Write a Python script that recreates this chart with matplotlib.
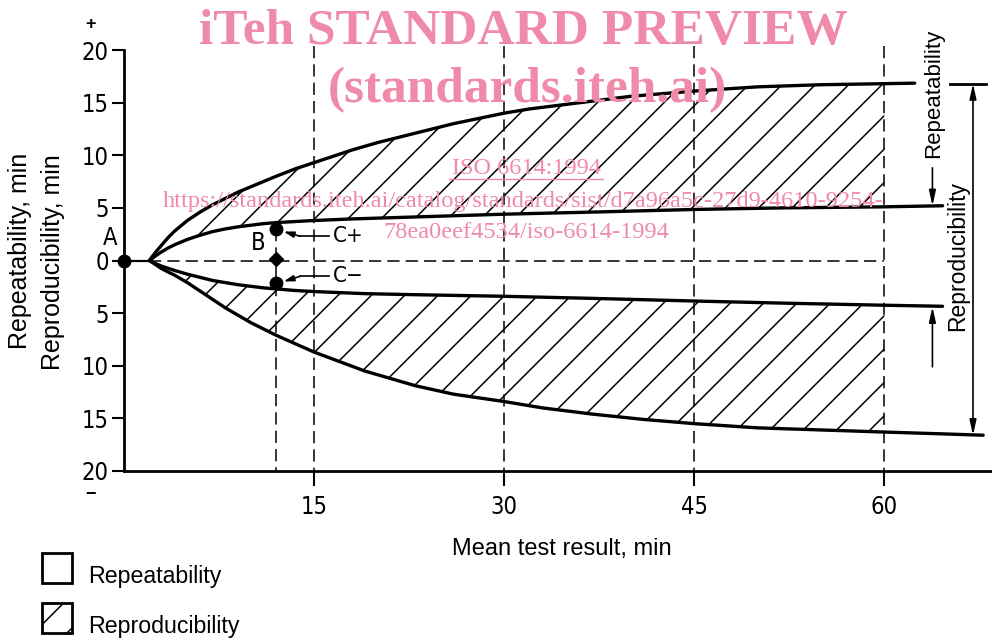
import matplotlib

matplotlib.use("Agg")
import matplotlib.pyplot as plt  # noqa: E402
from matplotlib.lines import Line2D  # noqa: E402
from matplotlib.patches import Rectangle  # noqa: E402

# values (minutes)
outer_top_x = [2.0, 2.5, 3.0, 3.5, 4.0, 4.5, 5.0, 5.5, 6.0, 7.0, 8.0, 9.0, 10.0, 11.0, 12.0,
               13.5, 15.0, 16.5, 18.0, 20.0, 22.0, 24.0, 26.0, 28.0, 30.0, 32.0, 34.0, 36.0,
               38.0, 40.0, 42.0, 45.0, 47.5, 50.0, 52.5, 55.0, 57.5, 60.0, 62.4]
outer_top_y = [0.0, 0.8, 1.5, 2.2, 2.8, 3.3, 3.8, 4.2, 4.6, 5.3, 5.9, 6.5, 7.0, 7.5, 8.0,
               8.7, 9.3, 9.9, 10.5, 11.2, 11.8, 12.4, 13.0, 13.5, 14.0, 14.4, 14.7, 15.0,
               15.3, 15.6, 15.8, 16.1, 16.3, 16.5, 16.6, 16.7, 16.75, 16.8, 16.85]
inner_top_x = [2.0, 2.5, 3.0, 3.5, 4.0, 5.0, 6.0, 7.0, 8.0, 9.0, 10.0, 11.0, 12.0, 13.5,
               15.0, 18.0, 22.0, 26.0, 30.0, 37.0, 45.0, 52.0, 60.0, 64.6]
inner_top_y = [0.0, 0.45, 0.85, 1.2, 1.5, 2.0, 2.4, 2.75, 3.0, 3.2, 3.35, 3.5, 3.6, 3.7,
               3.8, 3.95, 4.1, 4.25, 4.4, 4.6, 4.85, 5.0, 5.1, 5.2]
inner_bot_x = [2.0, 2.5, 3.0, 4.0, 5.0, 6.0, 7.0, 8.0, 9.0, 10.0, 11.0, 12.0, 13.5, 15.0,
               17.0, 19.0, 23.0, 30.0, 37.0, 45.0, 52.0, 60.0, 64.6]
inner_bot_y = [0.0, -0.3, -0.55, -0.95, -1.3, -1.6, -1.9, -2.1, -2.3, -2.45, -2.6, -2.7,
               -2.85, -2.95, -3.05, -3.15, -3.25, -3.4, -3.6, -3.85, -4.05, -4.25, -4.35]
outer_bot_x = [2.0, 2.5, 3.0, 4.0, 5.0, 6.0, 7.0, 8.0, 9.0, 10.0, 11.0, 12.0, 13.5, 15.0,
               17.0, 19.0, 21.0, 23.0, 26.0, 30.0, 33.0, 37.0, 41.0, 45.0, 50.0, 55.0, 60.0,
               64.0, 67.8]
outer_bot_y = [0.0, -0.4, -0.8, -1.4, -2.1, -2.9, -3.7, -4.5, -5.2, -5.9, -6.5, -7.1, -7.9,
               -8.7, -9.6, -10.5, -11.2, -11.9, -12.7, -13.4, -14.0, -14.6, -15.1, -15.5,
               -15.9, -16.1, -16.3, -16.45, -16.6]

point_a = (0.0, 0.0)
point_b_x = 12.0
point_b_y = [3.0, 0.1, -2.1]  # C+, B, C-
grid_x = [15, 30, 45, 60]
y_ticks = [-20, -15, -10, -5, 0, 5, 10, 15, 20]
y_ticklabels = [str(abs(v)) for v in y_ticks]

PINK = "#ef8aa9"
TICK_FONT = dict(family="DejaVu Sans", stretch="condensed")
plt.rcParams["font.family"] = ["Liberation Sans", "DejaVu Sans"]
plt.rcParams["hatch.linewidth"] = 1.1

W, H = 992, 640
fig = plt.figure(figsize=(W / 100, H / 100), dpi=100)
ax = fig.add_axes([124 / W, (H - 471) / H, (W - 124) / W, (471 - 50) / H])
ax.set_xlim(0, 68.5)
ax.set_ylim(-20, 20)
for side in ("top", "right"):
    ax.spines[side].set_visible(False)
for side in ("left", "bottom"):
    ax.spines[side].set_linewidth(2.0)

ax.set_xticks(grid_x)
ax.set_xticklabels([str(v) for v in grid_x], fontsize=17, **TICK_FONT)
ax.set_yticks(y_ticks)
ax.set_yticklabels(y_ticklabels, fontsize=17, **TICK_FONT)
ax.tick_params(axis="x", direction="out", length=11, width=1.5, pad=6)
ax.tick_params(axis="y", direction="out", length=9, width=1.5, pad=2)

dash = dict(color="black", linestyle=(0, (8, 4)), linewidth=1.1)

# vertical reference lines
for gx in grid_x:
    ax.plot([gx, gx], [20.4, -20], clip_on=False, **dash)
ax.plot([point_b_x, point_b_x], [point_b_y[0], -20], **dash)
ax.plot([outer_top_x[0], 60], [0, 0], **dash)
ax.plot([point_a[0], outer_top_x[0]], [0, 0], color="black", linewidth=1.6)


# hatched reproducibility bands (up to 60 min)
def band(xo, yo, xi, yi, limit=60.0):
    px = [x for x in xo if x <= limit] + [x for x in xi if x <= limit][::-1]
    py = [y for x, y in zip(xo, yo) if x <= limit] + [y for x, y in zip(xi, yi) if x <= limit][::-1]
    ax.fill(px, py, facecolor="none", edgecolor="black", hatch="/", linewidth=0)


band(outer_top_x, outer_top_y, inner_top_x, inner_top_y)
band(outer_bot_x, outer_bot_y, inner_bot_x, inner_bot_y)

curve = dict(color="black", linewidth=2.4, solid_capstyle="round", solid_joinstyle="round",
             clip_on=False)
ax.plot(outer_top_x, outer_top_y, **curve)
ax.plot(inner_top_x, inner_top_y, **curve)
ax.plot(inner_bot_x, inner_bot_y, **curve)
ax.plot(outer_bot_x, outer_bot_y, **curve)

# points A, B, C+, C-
ax.plot([point_a[0]], [point_a[1]], "o", color="black", markersize=9, clip_on=False, zorder=5)
ax.plot([point_b_x, point_b_x], [point_b_y[0], point_b_y[2]], "o", color="black", markersize=9, zorder=5)
ax.plot([point_b_x], [point_b_y[1]], "D", color="black", markersize=7, zorder=5)
ax.text(-1.1, 2.1, "A", fontsize=17, ha="center", va="center", clip_on=False, **TICK_FONT)
ax.text(10.6, 1.7, "B", fontsize=17, ha="center", va="center", **TICK_FONT)

arrow = dict(arrowstyle="-|>,head_length=0.6,head_width=0.18", color="black", lw=1.2,
             shrinkA=0, shrinkB=0)
for (hx, hy), (tx, ty), lab in [((12.6, 2.75), (13.9, 2.3), "C+"),
                                ((12.6, -2.0), (13.9, -1.5), "C\u2212")]:
    ax.annotate("", xy=(hx, hy), xytext=(tx, ty), arrowprops=arrow)
    ax.plot([tx, 16.2], [ty, ty], color="black", linewidth=1.2)
    ax.text(16.5, ty, lab, fontsize=16, ha="left", va="center", **TICK_FONT)

# right-hand dimension arrows
ax.plot([65.2, 68.0], [16.8, 16.8], color="black", linewidth=2.0, clip_on=False)
rep_arrow = dict(arrowstyle="-|>,head_length=0.9,head_width=0.2", color="black", lw=1.2,
                 shrinkA=0, shrinkB=0)
ax.annotate("", xy=(63.8, 5.2), xytext=(63.8, 8.8), arrowprops=rep_arrow, annotation_clip=False)
ax.annotate("", xy=(63.8, -4.4), xytext=(63.8, -10.1), arrowprops=rep_arrow, annotation_clip=False)
ax.annotate("", xy=(67.0, 16.8), xytext=(67.0, -16.6), annotation_clip=False,
            arrowprops=dict(arrowstyle="<|-|>,head_length=0.9,head_width=0.2", color="black",
                            lw=1.2, shrinkA=0, shrinkB=0))
ax.text(63.9, 15.9, "Repeatability", rotation=90, fontsize=16, ha="center", va="center",
        clip_on=False)
ax.text(65.8, 0.4, "Reproducibility", rotation=90, fontsize=16.5, ha="center", va="center",
        clip_on=False)

# axis titles and sign marks
fig.text(562 / W, 1 - 549 / H, "Mean test result, min", fontsize=17, ha="center", va="center")
fig.text(20 / W, 1 - 251 / H, "Repeatability, min", fontsize=18, rotation=90, ha="center", va="center")
fig.text(53 / W, 1 - 262 / H, "Reproducibility, min", fontsize=18, rotation=90, ha="center", va="center")
fig.text(91 / W, 1 - 24 / H, "+", fontsize=13, ha="center", va="center", weight="bold")
fig.text(90 / W, 1 - 494 / H, "\u2212", fontsize=13, ha="center", va="center", weight="bold")

# legend boxes
fig.add_artist(Rectangle((42 / W, 1 - 583 / H), 30 / W, 30 / H, facecolor="white",
                         edgecolor="black", linewidth=2.0, transform=fig.transFigure))
fig.add_artist(Rectangle((42 / W, 1 - 633 / H), 30 / W, 30 / H, facecolor="white",
                         edgecolor="black", linewidth=2.0, hatch="/", transform=fig.transFigure))
fig.text(88 / W, 1 - 577 / H, "Repeatability", fontsize=16.7, ha="left", va="center")
fig.text(88 / W, 1 - 627 / H, "Reproducibility", fontsize=16.7, ha="left", va="center")

# watermark
serif = ["Liberation Serif", "DejaVu Serif"]
fig.text(523 / W, 1 - 32 / H, "iTeh STANDARD PREVIEW", fontsize=37, weight="bold",
         family=serif, color=PINK, ha="center", va="center")
fig.text(527 / W, 1 - 90 / H, "(standards.iteh.ai)", fontsize=37, weight="bold",
         family=serif, color=PINK, ha="center", va="center")
fig.text(526 / W, 1 - 168 / H, "ISO 6614:1994", fontsize=17.5, family=serif, color=PINK,
         ha="center", va="center")
fig.add_artist(Line2D([449 / W, 603 / W], [1 - 179 / H, 1 - 179 / H], color=PINK, linewidth=1.0,
                      transform=fig.transFigure))
fig.text(523 / W, 1 - 202 / H,
         "https://standards.iteh.ai/catalog/standards/sist/d7a96a5c-27d9-4610-9254-",
         fontsize=17.6, family=serif, color=PINK, ha="center", va="center")
fig.text(526 / W, 1 - 233 / H, "78ea0eef4534/iso-6614-1994", fontsize=17.6, family=serif,
         color=PINK, ha="center", va="center")

fig.savefig("out.png", dpi=100)
